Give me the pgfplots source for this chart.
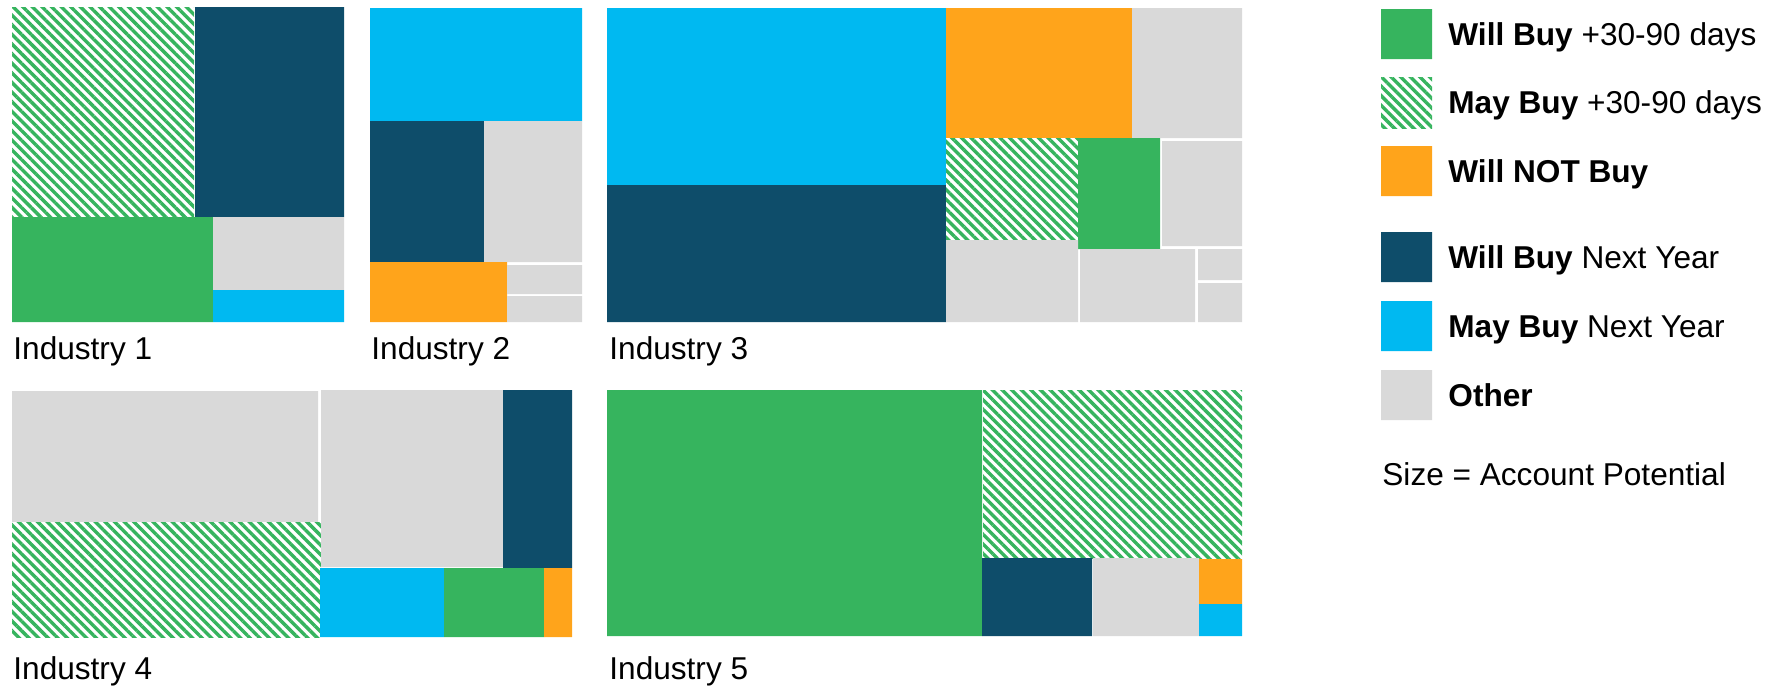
\documentclass[border=0pt]{standalone}
\usepackage{pgfplots}
\pgfplotsset{compat=1.18}
\usepackage{fontspec}
\setmainfont{Liberation Sans}
\usetikzlibrary{patterns.meta}
\definecolor{cgreen}{RGB}{54,180,94}
\definecolor{cnavy}{RGB}{14,77,106}
\definecolor{ccyan}{RGB}{0,185,241}
\definecolor{corange}{RGB}{255,164,27}
\definecolor{cgray}{RGB}{217,217,217}
\tikzset{
  hatch/.style={fill=white, draw=none, postaction={pattern={Lines[angle=-45,distance=3.4pt,line width=1.7pt]}, pattern color=cgreen}},
  lab/.style={font=\fontsize{15.8pt}{19pt}\selectfont, inner sep=0pt, anchor=base west, text=black},
}
\begin{document}
\begin{tikzpicture}
\begin{axis}[
  width=886.5pt, height=343pt, scale only axis,
  xmin=0, xmax=1773, ymin=0, ymax=686, y dir=reverse,
  hide axis, clip=false,
]
% ---------- Industry 1
\addplot[hatch] coordinates {(12,7) (194,7) (194,217) (12,217) (12,7)};
\addplot[fill=cnavy, draw=none] coordinates {(195,7) (344,7) (344,217) (195,217) (195,7)};
\addplot[fill=cgreen, draw=none] coordinates {(12,217) (213,217) (213,322) (12,322) (12,217)};
\addplot[fill=cgray, draw=none] coordinates {(213,217) (344,217) (344,290) (213,290) (213,217)};
\addplot[fill=ccyan, draw=none] coordinates {(213,290) (344,290) (344,322) (213,322) (213,290)};
% ---------- Industry 2
\addplot[fill=ccyan, draw=none] coordinates {(370,8) (582,8) (582,121) (370,121) (370,8)};
\addplot[fill=cnavy, draw=none] coordinates {(370,121) (484,121) (484,262) (370,262) (370,121)};
\addplot[fill=cgray, draw=none] coordinates {(484,121) (582,121) (582,262) (484,262) (484,121)};
\addplot[fill=corange, draw=none] coordinates {(370,262) (507,262) (507,322) (370,322) (370,262)};
\addplot[fill=cgray, draw=none] coordinates {(507,265) (582,265) (582,294) (507,294) (507,265)};
\addplot[fill=cgray, draw=none] coordinates {(507,296) (582,296) (582,322) (507,322) (507,296)};
% ---------- Industry 3
\addplot[fill=ccyan, draw=none] coordinates {(607,8) (946,8) (946,185) (607,185) (607,8)};
\addplot[fill=cnavy, draw=none] coordinates {(607,185) (946,185) (946,322) (607,322) (607,185)};
\addplot[fill=corange, draw=none] coordinates {(946,8) (1132,8) (1132,138) (946,138) (946,8)};
\addplot[fill=cgray, draw=none] coordinates {(1132,8) (1242,8) (1242,138) (1132,138) (1132,8)};
\addplot[hatch] coordinates {(946,138) (1078,138) (1078,240) (946,240) (946,138)};
\addplot[fill=cgreen, draw=none] coordinates {(1078,138) (1160,138) (1160,249) (1078,249) (1078,138)};
\addplot[fill=cgray, draw=none] coordinates {(1162,141) (1242,141) (1242,246) (1162,246) (1162,141)};
\addplot[fill=cgray, draw=none] coordinates {(946,240) (1078,240) (1078,322) (946,322) (946,240)};
\addplot[fill=cgray, draw=none] coordinates {(1080,249) (1195,249) (1195,322) (1080,322) (1080,249)};
\addplot[fill=cgray, draw=none] coordinates {(1198,249) (1242,249) (1242,280) (1198,280) (1198,249)};
\addplot[fill=cgray, draw=none] coordinates {(1198,283) (1242,283) (1242,322) (1198,322) (1198,283)};
% ---------- Industry 4
\addplot[fill=cgray, draw=none] coordinates {(12,391) (318,391) (318,522) (12,522) (12,391)};
\addplot[hatch] coordinates {(12,522) (321,522) (321,637) (12,637) (12,522)};
\addplot[fill=cgray, draw=none] coordinates {(321,390) (503,390) (503,567) (321,567) (321,390)};
\addplot[fill=cnavy, draw=none] coordinates {(503,390) (572,390) (572,568) (503,568) (503,390)};
\addplot[fill=ccyan, draw=none] coordinates {(320,568) (444,568) (444,637) (320,637) (320,568)};
\addplot[fill=cgreen, draw=none] coordinates {(444,568) (544,568) (544,637) (444,637) (444,568)};
\addplot[fill=corange, draw=none] coordinates {(544,568) (572,568) (572,637) (544,637) (544,568)};
% ---------- Industry 5
\addplot[fill=cgreen, draw=none] coordinates {(607,390) (982,390) (982,636) (607,636) (607,390)};
\addplot[hatch] coordinates {(983,390) (1242,390) (1242,558) (983,558) (983,390)};
\addplot[fill=cnavy, draw=none] coordinates {(982,558) (1092,558) (1092,636) (982,636) (982,558)};
\addplot[fill=cgray, draw=none] coordinates {(1093,558) (1199,558) (1199,636) (1093,636) (1093,558)};
\addplot[fill=corange, draw=none] coordinates {(1199,559) (1242,559) (1242,604) (1199,604) (1199,559)};
\addplot[fill=ccyan, draw=none] coordinates {(1199,604) (1242,604) (1242,636) (1199,636) (1199,604)};
% ---------- Legend swatches
\addplot[fill=cgreen, draw=none] coordinates {(1381,9) (1432,9) (1432,59) (1381,59) (1381,9)};
\addplot[hatch] coordinates {(1381,77) (1432,77) (1432,128) (1381,128) (1381,77)};
\addplot[fill=corange, draw=none] coordinates {(1381,146) (1432,146) (1432,196) (1381,196) (1381,146)};
\addplot[fill=cnavy, draw=none] coordinates {(1381,232) (1432,232) (1432,282) (1381,282) (1381,232)};
\addplot[fill=ccyan, draw=none] coordinates {(1381,301) (1432,301) (1432,351) (1381,351) (1381,301)};
\addplot[fill=cgray, draw=none] coordinates {(1381,370) (1432,370) (1432,420) (1381,420) (1381,370)};
% ---------- Labels
\node[lab] at (axis cs:13,359.5) {Industry 1};
\node[lab] at (axis cs:371,359.5) {Industry 2};
\node[lab] at (axis cs:609,359.5) {Industry 3};
\node[lab] at (axis cs:13,679.5) {Industry 4};
\node[lab] at (axis cs:609,679.5) {Industry 5};
\node[lab] at (axis cs:1448,45.3) {\textbf{Will Buy} +30-90 days};
\node[lab] at (axis cs:1448,113.8) {\textbf{May Buy} +30-90 days};
\node[lab] at (axis cs:1448,182.3) {\textbf{Will NOT Buy}};
\node[lab] at (axis cs:1448,268.3) {\textbf{Will Buy} Next Year};
\node[lab] at (axis cs:1448,337.3) {\textbf{May Buy} Next Year};
\node[lab] at (axis cs:1448,406.3) {\textbf{Other}};
\node[lab] at (axis cs:1382,485) {Size = Account Potential};
\end{axis}
\path (current axis.south west) rectangle (current axis.north east);
\end{tikzpicture}
\end{document}
